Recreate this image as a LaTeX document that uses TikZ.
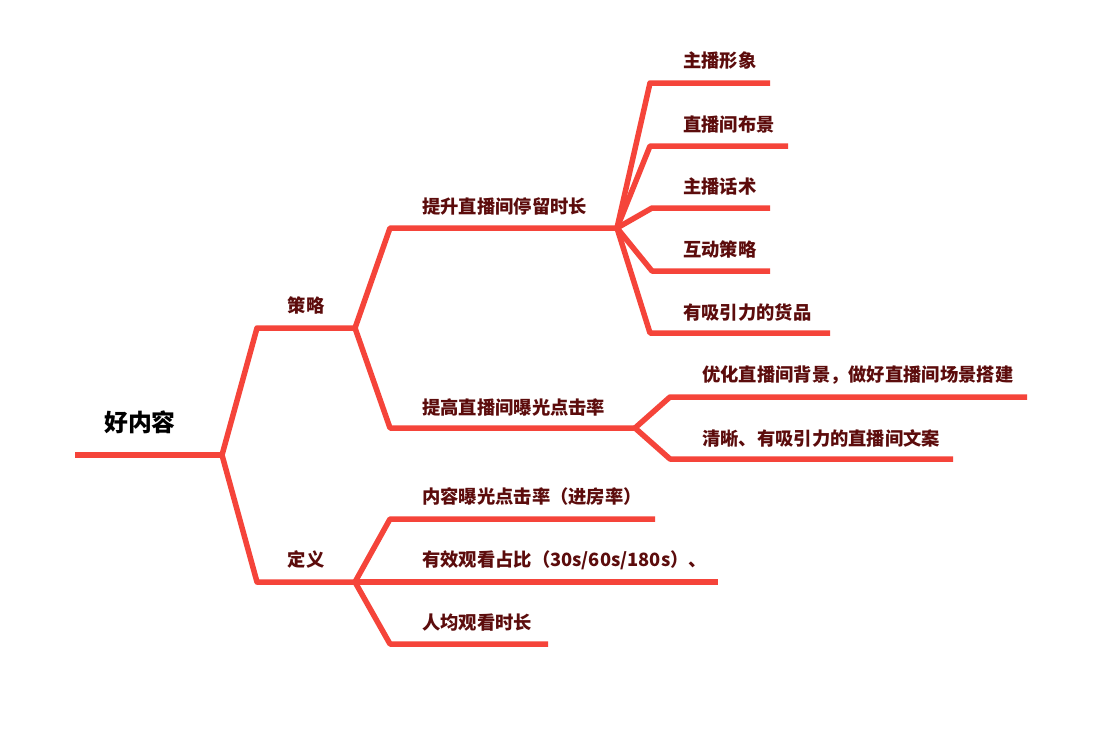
\documentclass[tikz,border=0pt]{standalone}
\usepackage{fontspec}
\setmainfont{Noto Sans CJK SC}
\definecolor{lred}{RGB}{245,68,58}
\definecolor{tcol}{RGB}{92,12,12}
\begin{document}
\begin{tikzpicture}[x=1pt,y=-1pt,
  br/.style={draw=lred,line width=5.5pt,line join=round},
  lbl/.style={anchor=west,inner sep=0pt,text=tcol,font=\bfseries\fontsize{18.3pt}{19pt}\selectfont},
  cl/.style={anchor=center,inner sep=0pt,text=tcol,font=\bfseries\fontsize{18.3pt}{19pt}\selectfont},
  rootlbl/.style={anchor=center,inner sep=0pt,text=black,font=\bfseries\fontsize{23.8pt}{24pt}\selectfont}]
\fill[white] (0,0) rectangle (1107,732);
\useasboundingbox (0,0) rectangle (1107,732);
% coordinates
\coordinate (r0) at (75,455);
\coordinate (rj) at (222,455);
\coordinate (s1e) at (257,328); \coordinate (s1) at (355,328);
\coordinate (s2e) at (257,582); \coordinate (s2) at (355,582);
\coordinate (a1e) at (390,228); \coordinate (a1) at (617,228);
\coordinate (a2e) at (390,428); \coordinate (a2) at (635,428);
\coordinate (b1e) at (650,83);  \coordinate (b1) at (770,83);
\coordinate (b2e) at (650,146); \coordinate (b2) at (788,146);
\coordinate (b3e) at (652,208); \coordinate (b3) at (770,208);
\coordinate (b4e) at (652,271); \coordinate (b4) at (770,271);
\coordinate (b5e) at (650,333); \coordinate (b5) at (830,333);
\coordinate (c1e) at (670,397); \coordinate (c1) at (1027,397);
\coordinate (c2e) at (670,459); \coordinate (c2) at (953,459);
\coordinate (d1e) at (390,519); \coordinate (d1) at (655,519);
\coordinate (d2) at (718,582);
\coordinate (d3e) at (390,644); \coordinate (d3) at (548,644);
% branches
\draw[br] (r0) -- (rj);
\draw[br] (rj) -- (s1e) -- (s1);
\draw[br] (rj) -- (s2e) -- (s2);
\draw[br] (s1) -- (a1e) -- (a1);
\draw[br] (s1) -- (a2e) -- (a2);
\draw[br] (a1) -- (b1e) -- (b1);
\draw[br] (a1) -- (b2e) -- (b2);
\draw[br] (a1) -- (b3e) -- (b3);
\draw[br] (a1) -- (b4e) -- (b4);
\draw[br] (a1) -- (b5e) -- (b5);
\draw[br] (a2) -- (c1e) -- (c1);
\draw[br] (a2) -- (c2e) -- (c2);
\draw[br] (s2) -- (d1e) -- (d1);
\draw[br] (s2) -- (d2);
\draw[br] (s2) -- (d3e) -- (d3);
% labels
\node[rootlbl] (root) at (140,422) {好内容};
\node[cl] (ts1) at (306,305) {策略};
\node[cl] (ts2) at (306,559) {定义};
\node[lbl] (ta1) at (422,206) {提升直播间停留时长};
\node[lbl] (ta2) at (422,407) {提高直播间曝光点击率};
\node[lbl] (tb1) at (683,61) {主播形象};
\node[lbl] (tb2) at (683,125) {直播间布景};
\node[lbl] (tb3) at (683,187) {主播话术};
\node[lbl] (tb4) at (683,249) {互动策略};
\node[lbl] (tb5) at (683,312) {有吸引力的货品};
\node[lbl] (tc1) at (702,375) {优化直播间背景，做好直播间场景搭建};
\node[lbl] (tc2) at (702,438) {清晰、有吸引力的直播间文案};
\node[lbl] (td1) at (422,497) {内容曝光点击率（进房率）};
\node[lbl] (td2) at (422,560) {有效观看占比（30s/60s/180s）、};
\node[lbl] (td3) at (422,623) {人均观看时长};
\end{tikzpicture}
\end{document}
